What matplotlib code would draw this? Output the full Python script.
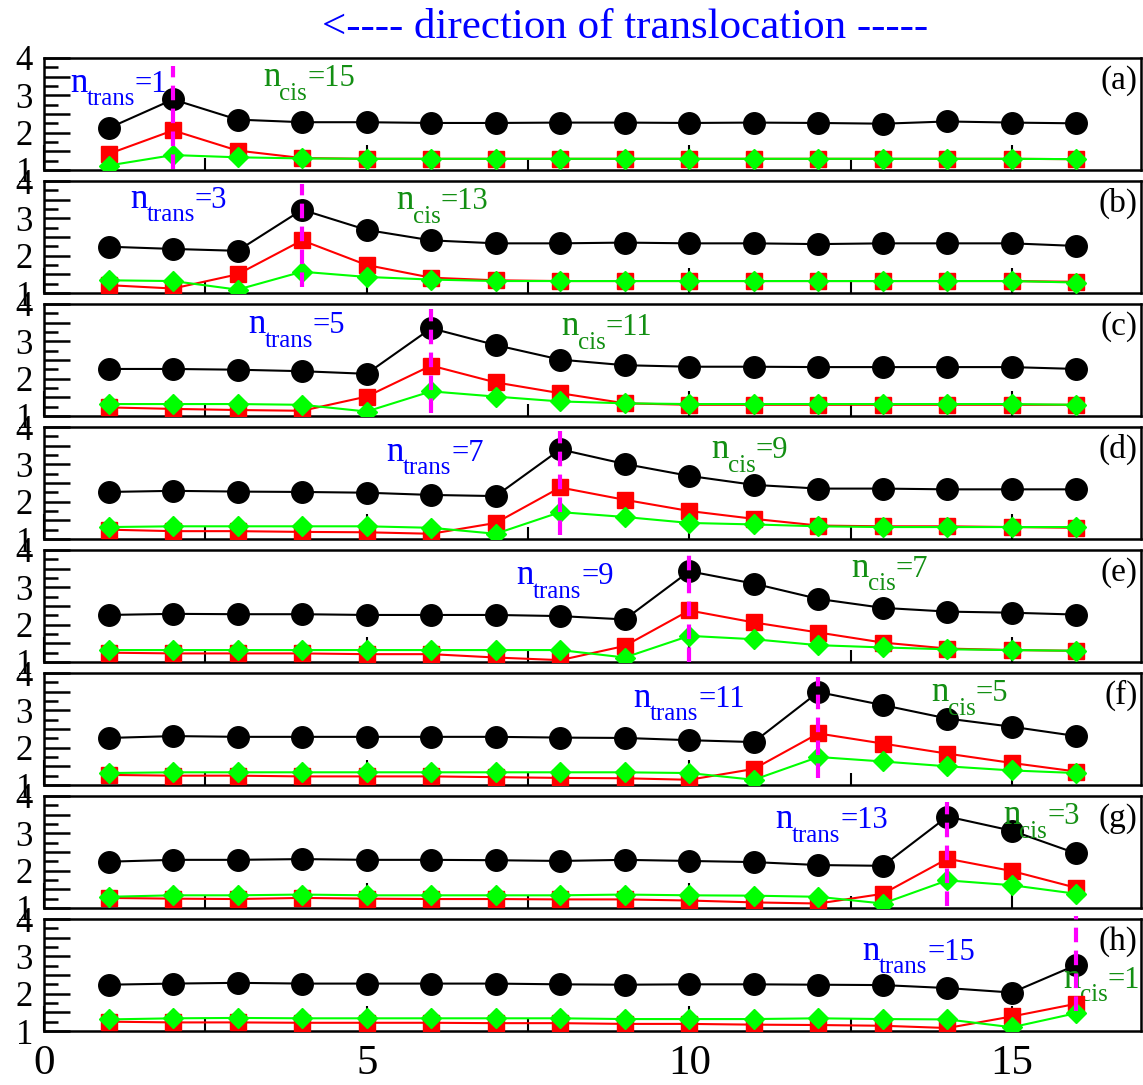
import numpy as np
import matplotlib
matplotlib.use("Agg")
import matplotlib.pyplot as plt
from matplotlib.ticker import MultipleLocator, FuncFormatter

plt.rcParams['font.family'] = ['Liberation Serif', 'DejaVu Serif']

# --- data: one row per panel, positions 1..16 ---
pos = np.arange(1, 17)
panel_tags = ['(a)', '(b)', '(c)', '(d)', '(e)', '(f)', '(g)', '(h)']
n_trans = [1, 3, 5, 7, 9, 11, 13, 15]
n_cis = [15, 13, 11, 9, 7, 5, 3, 1]

black_vals = [
    [2.12, 2.89, 2.35, 2.28, 2.28, 2.26, 2.26, 2.27, 2.27, 2.26, 2.27, 2.26, 2.24, 2.30, 2.27, 2.25],
    [2.24, 2.18, 2.13, 3.23, 2.69, 2.41, 2.33, 2.33, 2.35, 2.33, 2.33, 2.31, 2.33, 2.33, 2.33, 2.26],
    [2.26, 2.26, 2.24, 2.20, 2.13, 3.35, 2.90, 2.51, 2.36, 2.32, 2.32, 2.31, 2.31, 2.31, 2.31, 2.26],
    [2.26, 2.29, 2.27, 2.26, 2.24, 2.18, 2.15, 3.40, 3.01, 2.69, 2.45, 2.35, 2.35, 2.33, 2.33, 2.33],
    [2.26, 2.29, 2.28, 2.28, 2.26, 2.26, 2.26, 2.23, 2.14, 3.43, 3.10, 2.69, 2.45, 2.35, 2.32, 2.27],
    [2.26, 2.31, 2.29, 2.29, 2.29, 2.29, 2.29, 2.27, 2.26, 2.20, 2.15, 3.49, 3.14, 2.78, 2.56, 2.31],
    [2.24, 2.29, 2.29, 2.31, 2.29, 2.29, 2.28, 2.26, 2.29, 2.26, 2.23, 2.15, 2.13, 3.45, 3.07, 2.46],
    [2.24, 2.27, 2.29, 2.27, 2.27, 2.27, 2.27, 2.25, 2.24, 2.25, 2.25, 2.24, 2.23, 2.15, 2.03, 2.77],
]
red_vals = [
    [1.43, 2.06, 1.52, 1.32, 1.30, 1.30, 1.30, 1.30, 1.30, 1.30, 1.30, 1.30, 1.30, 1.30, 1.30, 1.29],
    [1.21, 1.12, 1.50, 2.41, 1.75, 1.41, 1.34, 1.32, 1.32, 1.32, 1.32, 1.32, 1.32, 1.32, 1.32, 1.30],
    [1.23, 1.19, 1.16, 1.14, 1.52, 2.35, 1.90, 1.61, 1.34, 1.30, 1.30, 1.30, 1.30, 1.30, 1.30, 1.30],
    [1.25, 1.21, 1.21, 1.19, 1.18, 1.14, 1.43, 2.38, 2.05, 1.75, 1.54, 1.36, 1.34, 1.34, 1.32, 1.30],
    [1.25, 1.23, 1.23, 1.23, 1.21, 1.21, 1.12, 1.05, 1.43, 2.38, 2.06, 1.79, 1.52, 1.36, 1.32, 1.30],
    [1.27, 1.25, 1.25, 1.23, 1.23, 1.23, 1.21, 1.19, 1.18, 1.14, 1.43, 2.38, 2.11, 1.84, 1.59, 1.36],
    [1.27, 1.25, 1.24, 1.27, 1.25, 1.24, 1.24, 1.23, 1.23, 1.20, 1.15, 1.12, 1.38, 2.32, 1.99, 1.54],
    [1.25, 1.23, 1.23, 1.22, 1.22, 1.22, 1.21, 1.21, 1.19, 1.19, 1.17, 1.16, 1.14, 1.08, 1.39, 1.73],
]
green_vals = [
    [1.12, 1.40, 1.34, 1.31, 1.30, 1.30, 1.30, 1.30, 1.30, 1.30, 1.30, 1.30, 1.30, 1.30, 1.30, 1.29],
    [1.34, 1.32, 1.09, 1.57, 1.43, 1.36, 1.32, 1.32, 1.32, 1.32, 1.32, 1.32, 1.32, 1.32, 1.32, 1.28],
    [1.32, 1.32, 1.32, 1.30, 1.12, 1.66, 1.52, 1.39, 1.34, 1.32, 1.32, 1.32, 1.32, 1.32, 1.32, 1.30],
    [1.32, 1.34, 1.34, 1.34, 1.34, 1.30, 1.14, 1.72, 1.59, 1.43, 1.39, 1.34, 1.32, 1.32, 1.32, 1.32],
    [1.32, 1.32, 1.32, 1.32, 1.32, 1.32, 1.32, 1.32, 1.12, 1.70, 1.61, 1.45, 1.39, 1.34, 1.32, 1.30],
    [1.32, 1.34, 1.34, 1.34, 1.34, 1.34, 1.34, 1.34, 1.34, 1.32, 1.14, 1.75, 1.63, 1.50, 1.39, 1.32],
    [1.30, 1.34, 1.34, 1.36, 1.34, 1.34, 1.34, 1.34, 1.36, 1.34, 1.33, 1.30, 1.12, 1.74, 1.61, 1.38],
    [1.31, 1.34, 1.35, 1.34, 1.34, 1.34, 1.34, 1.34, 1.32, 1.32, 1.32, 1.34, 1.32, 1.31, 1.10, 1.48],
]
# extent of the dashed marker line at the peak site
mark_span = [(1.03, 3.79), (1.16, 3.91), (1.07, 3.86), (1.12, 3.88),
             (1.00, 4.00), (1.19, 3.90), (1.05, 3.84), (1.53, 4.09)]

# label anchors (x, baseline y) for n_trans / n_cis
trans_xy = [(0.40, 3.10), (1.33, 3.29), (3.16, 3.21), (5.31, 3.10),
            (7.32, 3.08), (9.13, 3.10), (11.33, 3.13), (12.68, 2.91)]
cis_xy = [(3.39, 3.24), (5.46, 3.24), (8.02, 3.16), (10.34, 3.16),
          (12.51, 3.29), (13.75, 3.24), (14.86, 3.24), (15.80, 2.16)]

BLUE = '#0000ff'
DGREEN = '#138f13'
W, H = 1143, 1085


def sub_label(ax, x, y, sub, rest, color):
    """n with a subscript, built from three text pieces."""
    t_n = ax.text(x, y, 'n', fontsize=25, color=color, va='baseline', ha='left')
    t_s = ax.annotate(sub, xy=(1, y), xycoords=(t_n, 'data'), xytext=(-0.5, -9.5),
                      textcoords='offset points', fontsize=18, color=color,
                      va='baseline', ha='left')
    ax.annotate(rest, xy=(1, y), xycoords=(t_s, 'data'), xytext=(0, 0),
                textcoords='offset points', fontsize=22, color=color,
                va='baseline', ha='left')


fig = plt.figure(figsize=(W / 100, H / 100), dpi=100)

left, width = 44 / W, 1097 / W
for i in range(8):
    top_px = 58 + 123 * i
    ax = fig.add_axes([left, 1 - (top_px + 112) / H, width, 112 / H])

    ax.plot(pos, black_vals[i], '-o', color='black', lw=1.5, ms=15.5, zorder=3)
    ax.plot(pos, red_vals[i], '-s', color='#ff0000', lw=1.5, ms=12, zorder=4)
    ax.plot(pos, green_vals[i], '-D', color='#00ff00', lw=1.5, ms=10, zorder=5)

    peak = n_trans[i] + 1
    ax.plot([peak, peak], mark_span[i], color='#ff00ff', lw=3,
            dashes=(3.5, 2), zorder=6, clip_on=False)

    sub_label(ax, *trans_xy[i], 'trans', '=%d' % n_trans[i], BLUE)
    sub_label(ax, *cis_xy[i], 'cis', '=%d' % n_cis[i], DGREEN)
    ax.text(0.997, 0.80, panel_tags[i], transform=ax.transAxes, fontsize=24,
            ha='right', va='center', color='black')

    ax.set_xlim(0, 17)
    ax.set_ylim(1, 4)
    for s in ax.spines.values():
        s.set_linewidth(1.8)

    ax.xaxis.set_major_locator(MultipleLocator(5))
    ax.xaxis.set_minor_locator(MultipleLocator(2.5))
    ax.yaxis.set_major_locator(MultipleLocator(0.5))
    ax.yaxis.set_minor_locator(MultipleLocator(0.25))
    ax.yaxis.set_major_formatter(
        FuncFormatter(lambda v, p: '%d' % v if abs(v - round(v)) < 1e-6 else ''))
    ax.tick_params(axis='both', which='both', direction='in', top=False, right=False)
    ax.tick_params(axis='y', which='major', length=19, width=1.8, labelsize=25, pad=8)
    ax.tick_params(axis='y', which='minor', length=10, width=1.8)
    ax.tick_params(axis='x', which='major', length=18, width=1.5, labelsize=31, pad=10)
    ax.tick_params(axis='x', which='minor', length=9, width=1.5)
    if i < 7:
        ax.tick_params(axis='x', labelbottom=False)
    ax.patch.set_alpha(0)

fig.text(625 / W, 1 - 28 / H, '<---- direction of translocation -----',
         color=BLUE, fontsize=31, ha='center', va='center')

fig.savefig('out.png', dpi=100)
